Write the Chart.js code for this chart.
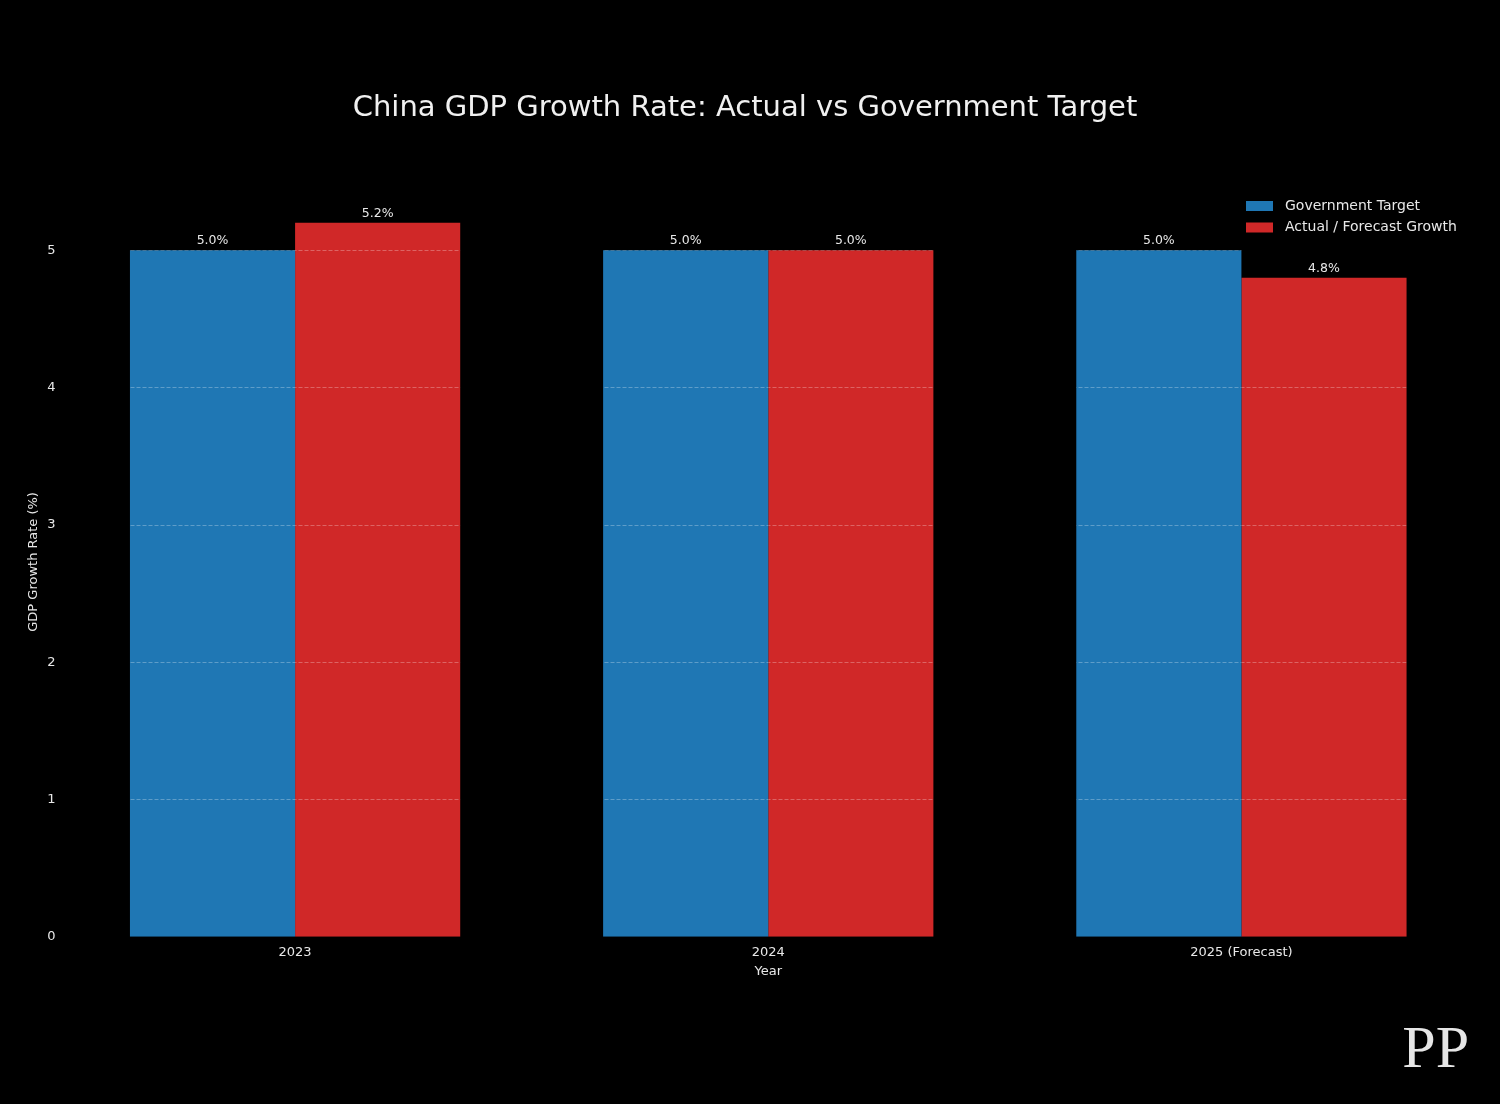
<!DOCTYPE html>
<html>
<head>
<meta charset="utf-8">
<script src="https://cdn.jsdelivr.net/npm/chart.js@4.4.1/dist/chart.umd.min.js"></script>
<style>
  html, body { margin: 0; padding: 0; background: #000; }
  #wrap { width: 1500px; height: 1104px; }
</style>
</head>
<body>
<div id="wrap"><canvas id="chart" width="1500" height="1104"></canvas></div>
<script>
// ---- data ----
const years = ['2023', '2024', '2025 (Forecast)'];
const targetValues = [5.0, 5.0, 5.0];
const actualValues = [5.2, 5.0, 4.8];
const yTicks = [0, 1, 2, 3, 4, 5];
const seriesNames = ['Government Target', 'Actual / Forecast Growth'];
const seriesColors = ['#1f77b4', '#d02828'];
const chartTitle = 'China GDP Growth Rate: Actual vs Government Target';

const TEXT = '#e8e8e8';
const FONT = 'DejaVu Sans';

// dashed grid, only visible where a bar is painted
const gridOverBars = {
  id: 'gridOverBars',
  afterDatasetsDraw(chart) {
    const { ctx, chartArea, scales } = chart;
    ctx.save();
    ctx.globalCompositeOperation = 'source-atop';
    ctx.strokeStyle = 'rgba(255,255,255,0.28)';
    ctx.lineWidth = 1;
    ctx.setLineDash([4, 2]);
    yTicks.forEach((t) => {
      const y = Math.round(scales.y.getPixelForValue(t)) + 0.5;
      ctx.beginPath();
      ctx.moveTo(chartArea.left, y);
      ctx.lineTo(chartArea.right, y);
      ctx.stroke();
    });
    ctx.restore();
  },
};

// "5.0%" labels above each bar
const valueLabels = {
  id: 'valueLabels',
  afterDatasetsDraw(chart) {
    const { ctx } = chart;
    ctx.save();
    ctx.font = '12.5px ' + FONT;
    ctx.fillStyle = TEXT;
    ctx.textAlign = 'center';
    ctx.textBaseline = 'bottom';
    chart.data.datasets.forEach((ds, i) => {
      chart.getDatasetMeta(i).data.forEach((bar, j) => {
        ctx.fillText(ds.data[j].toFixed(1) + '%', bar.x, bar.y - 3);
      });
    });
    ctx.restore();
  },
};

// title, legend in the top-right corner, watermark
const extras = {
  id: 'extras',
  afterDraw(chart) {
    const { ctx } = chart;
    ctx.save();
    ctx.font = '29px ' + FONT;
    ctx.fillStyle = '#f0f0f0';
    ctx.textAlign = 'center';
    ctx.textBaseline = 'middle';
    ctx.fillText(chartTitle, 745, 108);

    ctx.font = '14px ' + FONT;
    ctx.textAlign = 'left';
    seriesNames.forEach((name, i) => {
      const y = 206 + i * 21.5;
      ctx.fillStyle = seriesColors[i];
      ctx.fillRect(1246, y - 5, 27, 10);
      ctx.fillStyle = TEXT;
      ctx.fillText(name, 1285, y);
    });

    ctx.font = '60px "Liberation Serif"';
    ctx.fillStyle = '#e6e6e6';
    ctx.textAlign = 'right';
    ctx.textBaseline = 'alphabetic';
    ctx.fillText('PP', 1469, 1067);
    ctx.restore();
  },
};

new Chart(document.getElementById('chart'), {
  type: 'bar',
  data: {
    labels: years,
    datasets: [
      { label: seriesNames[0], data: targetValues, backgroundColor: seriesColors[0] },
      { label: seriesNames[1], data: actualValues, backgroundColor: seriesColors[1] },
    ],
  },
  options: {
    responsive: false,
    animation: false,
    devicePixelRatio: 1,
    layout: { padding: { left: 26, right: 22, top: 187, bottom: 125 } },
    datasets: { bar: { barPercentage: 1, categoryPercentage: 0.698, borderWidth: 0 } },
    plugins: {
      legend: { display: false },
      tooltip: { enabled: false },
      title: { display: false },
    },
    scales: {
      x: {
        grid: { display: false, drawTicks: false },
        border: { display: false },
        ticks: { color: TEXT, font: { family: FONT, size: 13 }, padding: 8 },
        title: { display: true, text: 'Year', color: TEXT, font: { family: FONT, size: 13 }, padding: { top: -5, bottom: 0 } },
      },
      y: {
        min: 0,
        max: 5.46,
        grid: { display: false, drawTicks: false },
        border: { display: false },
        afterBuildTicks: (axis) => { axis.ticks = yTicks.map((v) => ({ value: v })); },
        afterFit: (axis) => { axis.width = 32.5; },
        ticks: { color: TEXT, font: { family: FONT, size: 13 }, padding: 3 },
        title: { display: true, text: 'GDP Growth Rate (%)', color: TEXT, font: { family: FONT, size: 13 }, padding: { top: 0, bottom: 4 } },
      },
    },
  },
  plugins: [gridOverBars, valueLabels, extras],
});
</script>
</body>
</html>
